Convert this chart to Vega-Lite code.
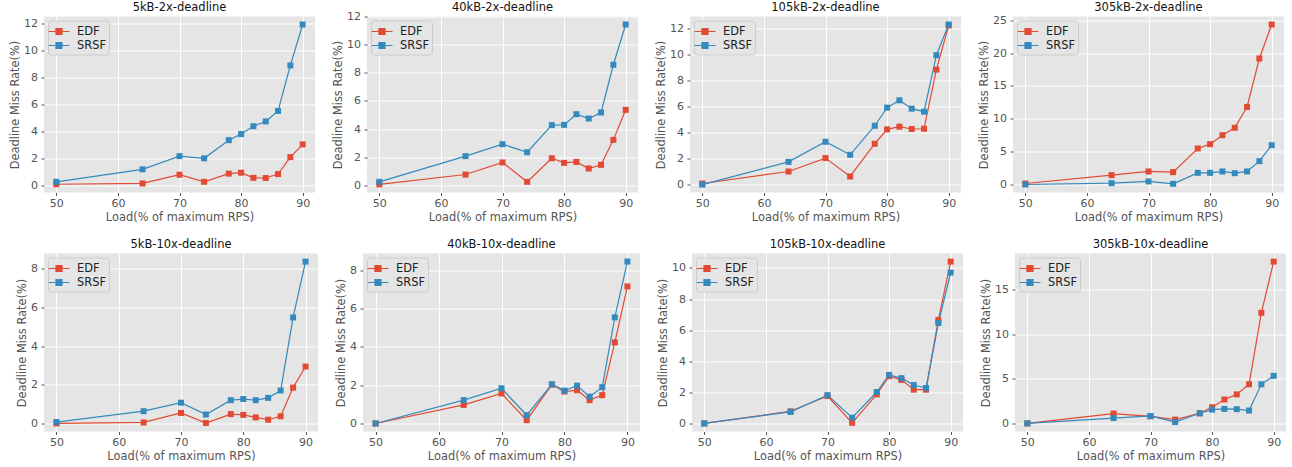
{
  "$schema": "https://vega.github.io/schema/vega-lite/v6.json",
  "padding": {"top": 1.5, "left": 9, "right": 2, "bottom": 2},
  "background": "white",
  "datasets": {
    "miss": [
      {"panel": "5kB-2x-deadline", "scheduler": "EDF", "load": 50, "rate": 0.12},
      {"panel": "5kB-2x-deadline", "scheduler": "EDF", "load": 64, "rate": 0.18},
      {"panel": "5kB-2x-deadline", "scheduler": "EDF", "load": 70, "rate": 0.82},
      {"panel": "5kB-2x-deadline", "scheduler": "EDF", "load": 74, "rate": 0.3},
      {"panel": "5kB-2x-deadline", "scheduler": "EDF", "load": 78, "rate": 0.9},
      {"panel": "5kB-2x-deadline", "scheduler": "EDF", "load": 80, "rate": 0.97},
      {"panel": "5kB-2x-deadline", "scheduler": "EDF", "load": 82, "rate": 0.59},
      {"panel": "5kB-2x-deadline", "scheduler": "EDF", "load": 84, "rate": 0.58},
      {"panel": "5kB-2x-deadline", "scheduler": "EDF", "load": 86, "rate": 0.87},
      {"panel": "5kB-2x-deadline", "scheduler": "EDF", "load": 88, "rate": 2.12},
      {"panel": "5kB-2x-deadline", "scheduler": "EDF", "load": 90, "rate": 3.06},
      {"panel": "5kB-2x-deadline", "scheduler": "SRSF", "load": 50, "rate": 0.3},
      {"panel": "5kB-2x-deadline", "scheduler": "SRSF", "load": 64, "rate": 1.22},
      {"panel": "5kB-2x-deadline", "scheduler": "SRSF", "load": 70, "rate": 2.19},
      {"panel": "5kB-2x-deadline", "scheduler": "SRSF", "load": 74, "rate": 2.03},
      {"panel": "5kB-2x-deadline", "scheduler": "SRSF", "load": 78, "rate": 3.37},
      {"panel": "5kB-2x-deadline", "scheduler": "SRSF", "load": 80, "rate": 3.82},
      {"panel": "5kB-2x-deadline", "scheduler": "SRSF", "load": 82, "rate": 4.4},
      {"panel": "5kB-2x-deadline", "scheduler": "SRSF", "load": 84, "rate": 4.75},
      {"panel": "5kB-2x-deadline", "scheduler": "SRSF", "load": 86, "rate": 5.52},
      {"panel": "5kB-2x-deadline", "scheduler": "SRSF", "load": 88, "rate": 8.88},
      {"panel": "5kB-2x-deadline", "scheduler": "SRSF", "load": 90, "rate": 11.9},

      {"panel": "40kB-2x-deadline", "scheduler": "EDF", "load": 50, "rate": 0.06},
      {"panel": "40kB-2x-deadline", "scheduler": "EDF", "load": 64, "rate": 0.76},
      {"panel": "40kB-2x-deadline", "scheduler": "EDF", "load": 70, "rate": 1.62},
      {"panel": "40kB-2x-deadline", "scheduler": "EDF", "load": 74, "rate": 0.24},
      {"panel": "40kB-2x-deadline", "scheduler": "EDF", "load": 78, "rate": 1.92},
      {"panel": "40kB-2x-deadline", "scheduler": "EDF", "load": 80, "rate": 1.59},
      {"panel": "40kB-2x-deadline", "scheduler": "EDF", "load": 82, "rate": 1.66},
      {"panel": "40kB-2x-deadline", "scheduler": "EDF", "load": 84, "rate": 1.19},
      {"panel": "40kB-2x-deadline", "scheduler": "EDF", "load": 86, "rate": 1.45},
      {"panel": "40kB-2x-deadline", "scheduler": "EDF", "load": 88, "rate": 3.23},
      {"panel": "40kB-2x-deadline", "scheduler": "EDF", "load": 90, "rate": 5.37},
      {"panel": "40kB-2x-deadline", "scheduler": "SRSF", "load": 50, "rate": 0.24},
      {"panel": "40kB-2x-deadline", "scheduler": "SRSF", "load": 64, "rate": 2.07},
      {"panel": "40kB-2x-deadline", "scheduler": "SRSF", "load": 70, "rate": 2.92},
      {"panel": "40kB-2x-deadline", "scheduler": "SRSF", "load": 74, "rate": 2.35},
      {"panel": "40kB-2x-deadline", "scheduler": "SRSF", "load": 78, "rate": 4.28},
      {"panel": "40kB-2x-deadline", "scheduler": "SRSF", "load": 80, "rate": 4.3},
      {"panel": "40kB-2x-deadline", "scheduler": "SRSF", "load": 82, "rate": 5.06},
      {"panel": "40kB-2x-deadline", "scheduler": "SRSF", "load": 84, "rate": 4.75},
      {"panel": "40kB-2x-deadline", "scheduler": "SRSF", "load": 86, "rate": 5.18},
      {"panel": "40kB-2x-deadline", "scheduler": "SRSF", "load": 88, "rate": 8.58},
      {"panel": "40kB-2x-deadline", "scheduler": "SRSF", "load": 90, "rate": 11.45},

      {"panel": "105kB-2x-deadline", "scheduler": "EDF", "load": 50, "rate": 0.08},
      {"panel": "105kB-2x-deadline", "scheduler": "EDF", "load": 64, "rate": 1.0},
      {"panel": "105kB-2x-deadline", "scheduler": "EDF", "load": 70, "rate": 2.03},
      {"panel": "105kB-2x-deadline", "scheduler": "EDF", "load": 74, "rate": 0.62},
      {"panel": "105kB-2x-deadline", "scheduler": "EDF", "load": 78, "rate": 3.13},
      {"panel": "105kB-2x-deadline", "scheduler": "EDF", "load": 80, "rate": 4.23},
      {"panel": "105kB-2x-deadline", "scheduler": "EDF", "load": 82, "rate": 4.44},
      {"panel": "105kB-2x-deadline", "scheduler": "EDF", "load": 84, "rate": 4.26},
      {"panel": "105kB-2x-deadline", "scheduler": "EDF", "load": 86, "rate": 4.28},
      {"panel": "105kB-2x-deadline", "scheduler": "EDF", "load": 88, "rate": 8.82},
      {"panel": "105kB-2x-deadline", "scheduler": "EDF", "load": 90, "rate": 12.2},
      {"panel": "105kB-2x-deadline", "scheduler": "SRSF", "load": 50, "rate": 0.0},
      {"panel": "105kB-2x-deadline", "scheduler": "SRSF", "load": 64, "rate": 1.74},
      {"panel": "105kB-2x-deadline", "scheduler": "SRSF", "load": 70, "rate": 3.28},
      {"panel": "105kB-2x-deadline", "scheduler": "SRSF", "load": 74, "rate": 2.28},
      {"panel": "105kB-2x-deadline", "scheduler": "SRSF", "load": 78, "rate": 4.51},
      {"panel": "105kB-2x-deadline", "scheduler": "SRSF", "load": 80, "rate": 5.9},
      {"panel": "105kB-2x-deadline", "scheduler": "SRSF", "load": 82, "rate": 6.46},
      {"panel": "105kB-2x-deadline", "scheduler": "SRSF", "load": 84, "rate": 5.82},
      {"panel": "105kB-2x-deadline", "scheduler": "SRSF", "load": 86, "rate": 5.59},
      {"panel": "105kB-2x-deadline", "scheduler": "SRSF", "load": 88, "rate": 9.92},
      {"panel": "105kB-2x-deadline", "scheduler": "SRSF", "load": 90, "rate": 12.28},

      {"panel": "305kB-2x-deadline", "scheduler": "EDF", "load": 50, "rate": 0.15},
      {"panel": "305kB-2x-deadline", "scheduler": "EDF", "load": 64, "rate": 1.42},
      {"panel": "305kB-2x-deadline", "scheduler": "EDF", "load": 70, "rate": 1.98},
      {"panel": "305kB-2x-deadline", "scheduler": "EDF", "load": 74, "rate": 1.88},
      {"panel": "305kB-2x-deadline", "scheduler": "EDF", "load": 78, "rate": 5.48},
      {"panel": "305kB-2x-deadline", "scheduler": "EDF", "load": 80, "rate": 6.14},
      {"panel": "305kB-2x-deadline", "scheduler": "EDF", "load": 82, "rate": 7.5},
      {"panel": "305kB-2x-deadline", "scheduler": "EDF", "load": 84, "rate": 8.62},
      {"panel": "305kB-2x-deadline", "scheduler": "EDF", "load": 86, "rate": 11.8},
      {"panel": "305kB-2x-deadline", "scheduler": "EDF", "load": 88, "rate": 19.17},
      {"panel": "305kB-2x-deadline", "scheduler": "EDF", "load": 90, "rate": 24.34},
      {"panel": "305kB-2x-deadline", "scheduler": "SRSF", "load": 50, "rate": 0.0},
      {"panel": "305kB-2x-deadline", "scheduler": "SRSF", "load": 64, "rate": 0.2},
      {"panel": "305kB-2x-deadline", "scheduler": "SRSF", "load": 70, "rate": 0.46},
      {"panel": "305kB-2x-deadline", "scheduler": "SRSF", "load": 74, "rate": 0.1},
      {"panel": "305kB-2x-deadline", "scheduler": "SRSF", "load": 78, "rate": 1.77},
      {"panel": "305kB-2x-deadline", "scheduler": "SRSF", "load": 80, "rate": 1.77},
      {"panel": "305kB-2x-deadline", "scheduler": "SRSF", "load": 82, "rate": 1.98},
      {"panel": "305kB-2x-deadline", "scheduler": "SRSF", "load": 84, "rate": 1.72},
      {"panel": "305kB-2x-deadline", "scheduler": "SRSF", "load": 86, "rate": 1.98},
      {"panel": "305kB-2x-deadline", "scheduler": "SRSF", "load": 88, "rate": 3.55},
      {"panel": "305kB-2x-deadline", "scheduler": "SRSF", "load": 90, "rate": 5.98},

      {"panel": "5kB-10x-deadline", "scheduler": "EDF", "load": 50, "rate": 0.0},
      {"panel": "5kB-10x-deadline", "scheduler": "EDF", "load": 64, "rate": 0.05},
      {"panel": "5kB-10x-deadline", "scheduler": "EDF", "load": 70, "rate": 0.54},
      {"panel": "5kB-10x-deadline", "scheduler": "EDF", "load": 74, "rate": 0.02},
      {"panel": "5kB-10x-deadline", "scheduler": "EDF", "load": 78, "rate": 0.48},
      {"panel": "5kB-10x-deadline", "scheduler": "EDF", "load": 80, "rate": 0.44},
      {"panel": "5kB-10x-deadline", "scheduler": "EDF", "load": 82, "rate": 0.31},
      {"panel": "5kB-10x-deadline", "scheduler": "EDF", "load": 84, "rate": 0.19},
      {"panel": "5kB-10x-deadline", "scheduler": "EDF", "load": 86, "rate": 0.37},
      {"panel": "5kB-10x-deadline", "scheduler": "EDF", "load": 88, "rate": 1.85},
      {"panel": "5kB-10x-deadline", "scheduler": "EDF", "load": 90, "rate": 2.94},
      {"panel": "5kB-10x-deadline", "scheduler": "SRSF", "load": 50, "rate": 0.07},
      {"panel": "5kB-10x-deadline", "scheduler": "SRSF", "load": 64, "rate": 0.63},
      {"panel": "5kB-10x-deadline", "scheduler": "SRSF", "load": 70, "rate": 1.07},
      {"panel": "5kB-10x-deadline", "scheduler": "SRSF", "load": 74, "rate": 0.46},
      {"panel": "5kB-10x-deadline", "scheduler": "SRSF", "load": 78, "rate": 1.2},
      {"panel": "5kB-10x-deadline", "scheduler": "SRSF", "load": 80, "rate": 1.26},
      {"panel": "5kB-10x-deadline", "scheduler": "SRSF", "load": 82, "rate": 1.2},
      {"panel": "5kB-10x-deadline", "scheduler": "SRSF", "load": 84, "rate": 1.32},
      {"panel": "5kB-10x-deadline", "scheduler": "SRSF", "load": 86, "rate": 1.7},
      {"panel": "5kB-10x-deadline", "scheduler": "SRSF", "load": 88, "rate": 5.48},
      {"panel": "5kB-10x-deadline", "scheduler": "SRSF", "load": 90, "rate": 8.37},

      {"panel": "40kB-10x-deadline", "scheduler": "EDF", "load": 50, "rate": 0.0},
      {"panel": "40kB-10x-deadline", "scheduler": "EDF", "load": 64, "rate": 0.97},
      {"panel": "40kB-10x-deadline", "scheduler": "EDF", "load": 70, "rate": 1.57},
      {"panel": "40kB-10x-deadline", "scheduler": "EDF", "load": 74, "rate": 0.17},
      {"panel": "40kB-10x-deadline", "scheduler": "EDF", "load": 78, "rate": 2.03},
      {"panel": "40kB-10x-deadline", "scheduler": "EDF", "load": 80, "rate": 1.67},
      {"panel": "40kB-10x-deadline", "scheduler": "EDF", "load": 82, "rate": 1.74},
      {"panel": "40kB-10x-deadline", "scheduler": "EDF", "load": 84, "rate": 1.22},
      {"panel": "40kB-10x-deadline", "scheduler": "EDF", "load": 86, "rate": 1.48},
      {"panel": "40kB-10x-deadline", "scheduler": "EDF", "load": 88, "rate": 4.24},
      {"panel": "40kB-10x-deadline", "scheduler": "EDF", "load": 90, "rate": 7.17},
      {"panel": "40kB-10x-deadline", "scheduler": "SRSF", "load": 50, "rate": 0.0},
      {"panel": "40kB-10x-deadline", "scheduler": "SRSF", "load": 64, "rate": 1.22},
      {"panel": "40kB-10x-deadline", "scheduler": "SRSF", "load": 70, "rate": 1.84},
      {"panel": "40kB-10x-deadline", "scheduler": "SRSF", "load": 74, "rate": 0.43},
      {"panel": "40kB-10x-deadline", "scheduler": "SRSF", "load": 78, "rate": 2.05},
      {"panel": "40kB-10x-deadline", "scheduler": "SRSF", "load": 80, "rate": 1.72},
      {"panel": "40kB-10x-deadline", "scheduler": "SRSF", "load": 82, "rate": 1.98},
      {"panel": "40kB-10x-deadline", "scheduler": "SRSF", "load": 84, "rate": 1.4},
      {"panel": "40kB-10x-deadline", "scheduler": "SRSF", "load": 86, "rate": 1.9},
      {"panel": "40kB-10x-deadline", "scheduler": "SRSF", "load": 88, "rate": 5.55},
      {"panel": "40kB-10x-deadline", "scheduler": "SRSF", "load": 90, "rate": 8.47},

      {"panel": "105kB-10x-deadline", "scheduler": "EDF", "load": 50, "rate": 0.0},
      {"panel": "105kB-10x-deadline", "scheduler": "EDF", "load": 64, "rate": 0.78},
      {"panel": "105kB-10x-deadline", "scheduler": "EDF", "load": 70, "rate": 1.76},
      {"panel": "105kB-10x-deadline", "scheduler": "EDF", "load": 74, "rate": 0.04},
      {"panel": "105kB-10x-deadline", "scheduler": "EDF", "load": 78, "rate": 1.87},
      {"panel": "105kB-10x-deadline", "scheduler": "EDF", "load": 80, "rate": 3.04},
      {"panel": "105kB-10x-deadline", "scheduler": "EDF", "load": 82, "rate": 2.8},
      {"panel": "105kB-10x-deadline", "scheduler": "EDF", "load": 84, "rate": 2.17},
      {"panel": "105kB-10x-deadline", "scheduler": "EDF", "load": 86, "rate": 2.17},
      {"panel": "105kB-10x-deadline", "scheduler": "EDF", "load": 88, "rate": 6.66},
      {"panel": "105kB-10x-deadline", "scheduler": "EDF", "load": 90, "rate": 10.41},
      {"panel": "105kB-10x-deadline", "scheduler": "SRSF", "load": 50, "rate": 0.0},
      {"panel": "105kB-10x-deadline", "scheduler": "SRSF", "load": 64, "rate": 0.74},
      {"panel": "105kB-10x-deadline", "scheduler": "SRSF", "load": 70, "rate": 1.82},
      {"panel": "105kB-10x-deadline", "scheduler": "SRSF", "load": 74, "rate": 0.37},
      {"panel": "105kB-10x-deadline", "scheduler": "SRSF", "load": 78, "rate": 2.02},
      {"panel": "105kB-10x-deadline", "scheduler": "SRSF", "load": 80, "rate": 3.12},
      {"panel": "105kB-10x-deadline", "scheduler": "SRSF", "load": 82, "rate": 2.91},
      {"panel": "105kB-10x-deadline", "scheduler": "SRSF", "load": 84, "rate": 2.47},
      {"panel": "105kB-10x-deadline", "scheduler": "SRSF", "load": 86, "rate": 2.28},
      {"panel": "105kB-10x-deadline", "scheduler": "SRSF", "load": 88, "rate": 6.46},
      {"panel": "105kB-10x-deadline", "scheduler": "SRSF", "load": 90, "rate": 9.7},

      {"panel": "305kB-10x-deadline", "scheduler": "EDF", "load": 50, "rate": 0.0},
      {"panel": "305kB-10x-deadline", "scheduler": "EDF", "load": 64, "rate": 1.1},
      {"panel": "305kB-10x-deadline", "scheduler": "EDF", "load": 70, "rate": 0.79},
      {"panel": "305kB-10x-deadline", "scheduler": "EDF", "load": 74, "rate": 0.42},
      {"panel": "305kB-10x-deadline", "scheduler": "EDF", "load": 78, "rate": 1.13},
      {"panel": "305kB-10x-deadline", "scheduler": "EDF", "load": 80, "rate": 1.81},
      {"panel": "305kB-10x-deadline", "scheduler": "EDF", "load": 82, "rate": 2.68},
      {"panel": "305kB-10x-deadline", "scheduler": "EDF", "load": 84, "rate": 3.25},
      {"panel": "305kB-10x-deadline", "scheduler": "EDF", "load": 86, "rate": 4.38},
      {"panel": "305kB-10x-deadline", "scheduler": "EDF", "load": 88, "rate": 12.39},
      {"panel": "305kB-10x-deadline", "scheduler": "EDF", "load": 90, "rate": 18.13},
      {"panel": "305kB-10x-deadline", "scheduler": "SRSF", "load": 50, "rate": 0.0},
      {"panel": "305kB-10x-deadline", "scheduler": "SRSF", "load": 64, "rate": 0.6},
      {"panel": "305kB-10x-deadline", "scheduler": "SRSF", "load": 70, "rate": 0.83},
      {"panel": "305kB-10x-deadline", "scheduler": "SRSF", "load": 74, "rate": 0.15},
      {"panel": "305kB-10x-deadline", "scheduler": "SRSF", "load": 78, "rate": 1.13},
      {"panel": "305kB-10x-deadline", "scheduler": "SRSF", "load": 80, "rate": 1.55},
      {"panel": "305kB-10x-deadline", "scheduler": "SRSF", "load": 82, "rate": 1.62},
      {"panel": "305kB-10x-deadline", "scheduler": "SRSF", "load": 84, "rate": 1.59},
      {"panel": "305kB-10x-deadline", "scheduler": "SRSF", "load": 86, "rate": 1.44},
      {"panel": "305kB-10x-deadline", "scheduler": "SRSF", "load": 88, "rate": 4.38},
      {"panel": "305kB-10x-deadline", "scheduler": "SRSF", "load": 90, "rate": 5.33}
    ]
  },
  "columns": 1,
  "align": "none",
  "spacing": 15,
  "resolve": {"scale": {"color": "independent", "y": "independent"}, "legend": {"color": "independent"}},
  "concat": [
    {
      "spacing": 17,
      "resolve": {"scale": {"color": "independent", "y": "independent"}, "legend": {"color": "independent"}},
      "hconcat": [
        {
          "width": 271, "height": 176,
          "title": {"text": "5kB-2x-deadline", "fontWeight": 400},
          "data": {"name": "miss"},
          "transform": [{"filter": "datum.panel === '5kB-2x-deadline'"}],
          "encoding": {
            "x": {"field": "load", "type": "quantitative", "scale": {"domain": [48, 92], "nice": false, "zero": false}, "axis": {"values": [50, 60, 70, 80, 90], "title": "Load(% of maximum RPS)"}},
            "y": {"field": "rate", "type": "quantitative", "scale": {"domain": [-0.49, 12.49], "nice": false, "zero": false}, "axis": {"values": [0, 2, 4, 6, 8, 10, 12], "title": "Deadline Miss Rate(%)"}},
            "color": {"field": "scheduler", "type": "nominal", "scale": {"domain": ["EDF", "SRSF"], "range": ["#E24A33", "#348ABD"]}, "legend": {"encode": {"symbols": {"update": {"fill": {"signal": "datum.value === 'EDF' ? '#E24A33' : '#348ABD'"}, "stroke": {"signal": "datum.value === 'EDF' ? '#E24A33' : '#348ABD'"}, "strokeWidth": {"value": 1.2}, "opacity": {"value": 1}}}}}}
          },
          "layer": [
            {"mark": {"type": "line", "strokeWidth": 1.2}, "encoding": {}},
            {"mark": {"type": "point", "shape": "square", "filled": true, "size": 36, "opacity": 1}}
          ]
        },
        {
          "width": 271, "height": 176,
          "title": {"text": "40kB-2x-deadline", "fontWeight": 400, "dy": 5.5},
          "data": {"name": "miss"},
          "transform": [{"filter": "datum.panel === '40kB-2x-deadline'"}],
          "encoding": {
            "x": {"field": "load", "type": "quantitative", "scale": {"domain": [48, 92], "nice": false, "zero": false}, "axis": {"values": [50, 60, 70, 80, 90], "title": "Load(% of maximum RPS)"}},
            "y": {"field": "rate", "type": "quantitative", "scale": {"domain": [-0.52, 12.02], "nice": false, "zero": false}, "axis": {"values": [0, 2, 4, 6, 8, 10, 12], "title": "Deadline Miss Rate(%)"}},
            "color": {"field": "scheduler", "type": "nominal", "scale": {"domain": ["EDF", "SRSF"], "range": ["#E24A33", "#348ABD"]}, "legend": {"encode": {"symbols": {"update": {"fill": {"signal": "datum.value === 'EDF' ? '#E24A33' : '#348ABD'"}, "stroke": {"signal": "datum.value === 'EDF' ? '#E24A33' : '#348ABD'"}, "strokeWidth": {"value": 1.2}, "opacity": {"value": 1}}}}}}
          },
          "layer": [
            {"mark": {"type": "line", "strokeWidth": 1.2}, "encoding": {}},
            {"mark": {"type": "point", "shape": "square", "filled": true, "size": 36, "opacity": 1}}
          ]
        },
        {
          "width": 271, "height": 176,
          "title": {"text": "105kB-2x-deadline", "fontWeight": 400},
          "data": {"name": "miss"},
          "transform": [{"filter": "datum.panel === '105kB-2x-deadline'"}],
          "encoding": {
            "x": {"field": "load", "type": "quantitative", "scale": {"domain": [48, 92], "nice": false, "zero": false}, "axis": {"values": [50, 60, 70, 80, 90], "title": "Load(% of maximum RPS)"}},
            "y": {"field": "rate", "type": "quantitative", "scale": {"domain": [-0.61, 12.89], "nice": false, "zero": false}, "axis": {"values": [0, 2, 4, 6, 8, 10, 12], "title": "Deadline Miss Rate(%)"}},
            "color": {"field": "scheduler", "type": "nominal", "scale": {"domain": ["EDF", "SRSF"], "range": ["#E24A33", "#348ABD"]}, "legend": {"encode": {"symbols": {"update": {"fill": {"signal": "datum.value === 'EDF' ? '#E24A33' : '#348ABD'"}, "stroke": {"signal": "datum.value === 'EDF' ? '#E24A33' : '#348ABD'"}, "strokeWidth": {"value": 1.2}, "opacity": {"value": 1}}}}}}
          },
          "layer": [
            {"mark": {"type": "line", "strokeWidth": 1.2}, "encoding": {}},
            {"mark": {"type": "point", "shape": "square", "filled": true, "size": 36, "opacity": 1}}
          ]
        },
        {
          "width": 271, "height": 176,
          "title": {"text": "305kB-2x-deadline", "fontWeight": 400, "dy": 2},
          "data": {"name": "miss"},
          "transform": [{"filter": "datum.panel === '305kB-2x-deadline'"}],
          "encoding": {
            "x": {"field": "load", "type": "quantitative", "scale": {"domain": [48, 92], "nice": false, "zero": false}, "axis": {"values": [50, 60, 70, 80, 90], "title": "Load(% of maximum RPS)"}},
            "y": {"field": "rate", "type": "quantitative", "scale": {"domain": [-1.22, 25.56], "nice": false, "zero": false}, "axis": {"values": [0, 5, 10, 15, 20, 25], "title": "Deadline Miss Rate(%)"}},
            "color": {"field": "scheduler", "type": "nominal", "scale": {"domain": ["EDF", "SRSF"], "range": ["#E24A33", "#348ABD"]}, "legend": {"encode": {"symbols": {"update": {"fill": {"signal": "datum.value === 'EDF' ? '#E24A33' : '#348ABD'"}, "stroke": {"signal": "datum.value === 'EDF' ? '#E24A33' : '#348ABD'"}, "strokeWidth": {"value": 1.2}, "opacity": {"value": 1}}}}}}
          },
          "layer": [
            {"mark": {"type": "line", "strokeWidth": 1.2}, "encoding": {}},
            {"mark": {"type": "point", "shape": "square", "filled": true, "size": 36, "opacity": 1}}
          ]
        }
      ]
    },
    {
      "spacing": 17,
      "resolve": {"scale": {"color": "independent", "y": "independent"}, "legend": {"color": "independent"}},
      "hconcat": [
        {
          "width": 274, "height": 178,
          "title": {"text": "5kB-10x-deadline", "fontWeight": 400},
          "data": {"name": "miss"},
          "transform": [{"filter": "datum.panel === '5kB-10x-deadline'"}],
          "encoding": {
            "x": {"field": "load", "type": "quantitative", "scale": {"domain": [48, 92], "nice": false, "zero": false}, "axis": {"values": [50, 60, 70, 80, 90], "title": "Load(% of maximum RPS)"}},
            "y": {"field": "rate", "type": "quantitative", "scale": {"domain": [-0.42, 8.79], "nice": false, "zero": false}, "axis": {"values": [0, 2, 4, 6, 8], "title": "Deadline Miss Rate(%)"}},
            "color": {"field": "scheduler", "type": "nominal", "scale": {"domain": ["EDF", "SRSF"], "range": ["#E24A33", "#348ABD"]}, "legend": {"encode": {"symbols": {"update": {"fill": {"signal": "datum.value === 'EDF' ? '#E24A33' : '#348ABD'"}, "stroke": {"signal": "datum.value === 'EDF' ? '#E24A33' : '#348ABD'"}, "strokeWidth": {"value": 1.2}, "opacity": {"value": 1}}}}}}
          },
          "layer": [
            {"mark": {"type": "line", "strokeWidth": 1.2}, "encoding": {}},
            {"mark": {"type": "point", "shape": "square", "filled": true, "size": 36, "opacity": 1}}
          ]
        },
        {
          "width": 277, "height": 178,
          "title": {"text": "40kB-10x-deadline", "fontWeight": 400},
          "data": {"name": "miss"},
          "transform": [{"filter": "datum.panel === '40kB-10x-deadline'"}],
          "encoding": {
            "x": {"field": "load", "type": "quantitative", "scale": {"domain": [48, 92], "nice": false, "zero": false}, "axis": {"values": [50, 60, 70, 80, 90], "title": "Load(% of maximum RPS)"}},
            "y": {"field": "rate", "type": "quantitative", "scale": {"domain": [-0.42, 8.89], "nice": false, "zero": false}, "axis": {"values": [0, 2, 4, 6, 8], "title": "Deadline Miss Rate(%)"}},
            "color": {"field": "scheduler", "type": "nominal", "scale": {"domain": ["EDF", "SRSF"], "range": ["#E24A33", "#348ABD"]}, "legend": {"encode": {"symbols": {"update": {"fill": {"signal": "datum.value === 'EDF' ? '#E24A33' : '#348ABD'"}, "stroke": {"signal": "datum.value === 'EDF' ? '#E24A33' : '#348ABD'"}, "strokeWidth": {"value": 1.2}, "opacity": {"value": 1}}}}}}
          },
          "layer": [
            {"mark": {"type": "line", "strokeWidth": 1.2}, "encoding": {}},
            {"mark": {"type": "point", "shape": "square", "filled": true, "size": 36, "opacity": 1}}
          ]
        },
        {
          "width": 271, "height": 178,
          "title": {"text": "105kB-10x-deadline", "fontWeight": 400},
          "data": {"name": "miss"},
          "transform": [{"filter": "datum.panel === '105kB-10x-deadline'"}],
          "encoding": {
            "x": {"field": "load", "type": "quantitative", "scale": {"domain": [48, 92], "nice": false, "zero": false}, "axis": {"values": [50, 60, 70, 80, 90], "title": "Load(% of maximum RPS)"}},
            "y": {"field": "rate", "type": "quantitative", "scale": {"domain": [-0.52, 10.93], "nice": false, "zero": false}, "axis": {"values": [0, 2, 4, 6, 8, 10], "title": "Deadline Miss Rate(%)"}},
            "color": {"field": "scheduler", "type": "nominal", "scale": {"domain": ["EDF", "SRSF"], "range": ["#E24A33", "#348ABD"]}, "legend": {"encode": {"symbols": {"update": {"fill": {"signal": "datum.value === 'EDF' ? '#E24A33' : '#348ABD'"}, "stroke": {"signal": "datum.value === 'EDF' ? '#E24A33' : '#348ABD'"}, "strokeWidth": {"value": 1.2}, "opacity": {"value": 1}}}}}}
          },
          "layer": [
            {"mark": {"type": "line", "strokeWidth": 1.2}, "encoding": {}},
            {"mark": {"type": "point", "shape": "square", "filled": true, "size": 36, "opacity": 1}}
          ]
        },
        {
          "width": 271, "height": 178,
          "title": {"text": "305kB-10x-deadline", "fontWeight": 400},
          "data": {"name": "miss"},
          "transform": [{"filter": "datum.panel === '305kB-10x-deadline'"}],
          "encoding": {
            "x": {"field": "load", "type": "quantitative", "scale": {"domain": [48, 92], "nice": false, "zero": false}, "axis": {"values": [50, 60, 70, 80, 90], "title": "Load(% of maximum RPS)"}},
            "y": {"field": "rate", "type": "quantitative", "scale": {"domain": [-0.91, 19.04], "nice": false, "zero": false}, "axis": {"values": [0, 5, 10, 15], "title": "Deadline Miss Rate(%)"}},
            "color": {"field": "scheduler", "type": "nominal", "scale": {"domain": ["EDF", "SRSF"], "range": ["#E24A33", "#348ABD"]}, "legend": {"encode": {"symbols": {"update": {"fill": {"signal": "datum.value === 'EDF' ? '#E24A33' : '#348ABD'"}, "stroke": {"signal": "datum.value === 'EDF' ? '#E24A33' : '#348ABD'"}, "strokeWidth": {"value": 1.2}, "opacity": {"value": 1}}}}}}
          },
          "layer": [
            {"mark": {"type": "line", "strokeWidth": 1.2}, "encoding": {}},
            {"mark": {"type": "point", "shape": "square", "filled": true, "size": 36, "opacity": 1}}
          ]
        }
      ]
    }
  ],
  "config": {
    "font": "DejaVu Sans",
    "view": {"fill": "#E5E5E5", "stroke": null},
    "title": {"font": "DejaVu Sans", "fontSize": 11.5, "fontWeight": 400, "color": "#111111", "offset": 3, "anchor": "middle"},
    "style": {"group-title": {"fontSize": 11.5, "fontWeight": 400}},
    "axis": {
      "domain": false, "grid": true, "gridColor": "#FFFFFF", "gridWidth": 1, "gridOpacity": 1,
      "ticks": true, "tickColor": "#555555", "tickSize": 3, "tickWidth": 1,
      "labelColor": "#555555", "labelFont": "DejaVu Sans", "labelFontSize": 11,
      "titleColor": "#555555", "titleFont": "DejaVu Sans", "titleFontSize": 11.4, "titleFontWeight": "normal"
    },
    "axisX": {"labelPadding": 2, "titlePadding": 3},
    "axisY": {"labelPadding": 3.5, "titlePadding": 3},
    "legend": {
      "orient": "top-left", "offset": 4, "padding": 3, "title": null,
      "fillColor": "#E5E5E5", "strokeColor": "#CCCCCC", "cornerRadius": 3,
      "labelFont": "DejaVu Sans", "labelFontSize": 11.4, "labelColor": "#222222", "labelOffset": 10,
      "symbolType": "M-1.5,0H1.5M-0.43,-0.43H0.43V0.43H-0.43Z", "symbolSize": 196, "symbolStrokeWidth": 1.2,
      "rowPadding": 0
    }
  }
}
